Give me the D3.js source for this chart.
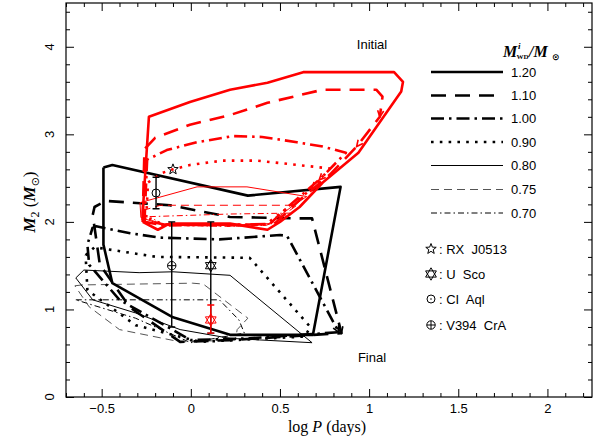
<!DOCTYPE html>
<html><head><meta charset="utf-8">
<script src="https://cdn.jsdelivr.net/npm/d3@7"></script>
<style>body{margin:0;background:#fff}</style>
</head><body>
<svg id="c" width="595" height="444"></svg>
<script>
// ---------------- data ----------------
const massLabels = ["1.20","1.10","1.00","0.90","0.80","0.75","0.70"];
const xTickValues = [-0.5, 0, 0.5, 1, 1.5, 2];
const yTickValues = [0, 1, 2, 3, 4];

// final (black) regions, [log P, M2]
const final120 = [[-0.49,2.62],[-0.44,2.65],[0.32,2.30],[0.84,2.40],[0.685,0.71],[0.22,0.71],[-0.10,0.91],[-0.44,1.30],[-0.49,1.74],[-0.49,2.62]];
const final110 = [[-0.55,2.08],[-0.54,2.17],[-0.476,2.24],[-0.117,2.19],[0.22,2.056],[0.61,2.04],[0.68,2.04],[0.845,0.73],[0.22,0.65],[-0.06,0.63],[-0.34,1.02],[-0.51,1.51],[-0.55,2.08]];
const final100 = [[-0.55,1.94],[-0.53,1.95],[-0.34,1.87],[-0.17,1.82],[0.16,1.80],[0.50,1.85],[0.54,1.84],[0.83,0.74],[0.33,0.67],[0.0,0.65],[-0.40,1.11],[-0.57,1.51],[-0.58,1.74],[-0.55,1.94]];
const final090 = [[-0.59,1.62],[-0.54,1.71],[-0.19,1.60],[0.33,1.59],[0.67,0.80],[0.64,0.69],[0.05,0.63],[-0.31,0.82],[-0.58,1.22],[-0.59,1.62]];
const final080 = [[-0.60,1.45],[-0.645,1.36],[-0.55,1.11],[-0.31,0.96],[-0.06,0.77],[0.22,0.67],[0.68,0.62],[0.22,1.39],[-0.10,1.43],[-0.29,1.42],[-0.60,1.45]];
const final075 = [[-0.65,1.27],[-0.61,1.28],[0.01,1.30],[0.07,1.29],[0.32,0.90],[0.26,0.77],[0.25,0.65],[-0.06,0.63],[-0.40,0.77],[-0.57,1.03],[-0.65,1.27]];
const final070 = [[-0.645,1.11],[0.16,1.11],[0.27,0.88],[0.30,0.73],[0.0,0.62],[-0.31,0.90],[-0.55,1.05],[-0.645,1.11]];

// initial (red) regions
const initial120 = [[-0.27,2.00],[-0.27,2.10],[-0.235,3.20],[-0.005,3.37],[0.22,3.51],[0.43,3.59],[0.63,3.71],[1.14,3.71],[1.19,3.60],[1.18,3.49],[0.94,2.79],[0.74,2.45],[0.61,2.17],[0.50,2.00],[0.43,1.91],[0.22,1.98],[-0.12,1.98],[-0.185,1.91],[-0.27,2.00]];
const initial110 = [[-0.27,2.02],[-0.26,2.83],[-0.20,2.96],[-0.005,3.11],[0.22,3.22],[0.43,3.36],[0.74,3.51],[1.04,3.51],[1.075,3.43],[1.06,3.20],[0.93,2.86],[0.78,2.54],[0.61,2.25],[0.47,1.98],[0.20,1.96],[-0.15,1.97],[-0.27,2.02]];
const initial100 = [[-0.26,2.00],[-0.245,2.71],[-0.135,2.82],[0.035,2.91],[0.235,2.98],[0.40,2.97],[0.595,2.91],[0.74,2.86],[0.87,2.79],[0.72,2.48],[0.555,2.19],[0.44,1.97],[0.20,1.97],[-0.15,1.96],[-0.26,2.00]];
const initial090 = [[-0.25,2.05],[-0.24,2.45],[-0.16,2.56],[-0.10,2.60],[-0.005,2.65],[0.18,2.70],[0.37,2.70],[0.555,2.66],[0.78,2.61],[0.68,2.38],[0.53,2.14],[0.42,1.97],[0.20,1.96],[-0.15,1.97],[-0.25,2.05]];
const initial080 = [[-0.285,2.22],[0.035,2.40],[0.315,2.40],[0.65,2.29],[0.57,2.18],[0.44,1.98],[0.20,1.96],[-0.15,1.96],[-0.28,2.05],[-0.285,2.22]];
const initial075 = [[-0.27,2.13],[-0.17,2.19],[0.595,2.19],[0.52,2.08],[0.43,1.97],[0.20,1.96],[-0.15,1.97],[-0.27,2.05],[-0.27,2.13]];
const initial070 = [[-0.23,2.06],[0.22,2.09],[0.555,2.10],[0.48,2.00],[0.42,1.96],[0.20,1.95],[-0.15,1.96],[-0.23,2.06]];

// observed systems
const obsNames = ["RX J0513","U Sco","CI Aql","V394 CrA"];
const obsLogP  = [-0.10, 0.112, -0.195, -0.107];
const obsM2    = [2.60, 1.50, 2.33, 1.50];
const obsLo    = [null, 0.73, 2.15, 0.80];
const obsHi    = [null, 2.00, 2.51, 2.00];
// U Sco red point
const uScoRedM2 = 0.88, uScoRedLo = 0.73, uScoRedHi = 1.05;

// arrows: [track set, mass index, vertex index]
const arrowSpecs = [["final",1,7],["final",2,7],["initial",1,9],["initial",1,10],["initial",2,9],["initial",3,9]];

// ---------------- chart ----------------
const svg = d3.select("#c");
const x = d3.scaleLinear().domain([-0.7, 2.25]).range([66, 592]);
const y = d3.scaleLinear().domain([0, 4.5]).range([397, 3]);
const finals = [final120, final110, final100, final090, final080, final075, final070];
const initials = [initial120, initial110, initial100, initial090, initial080, initial075, initial070];

const styles = [
  {w:2.6, dash:null, col:"#000"},
  {w:2.6, dash:"15,9", col:"#000"},
  {w:2.6, dash:"13,5,2.5,5", col:"#000"},
  {w:2.6, dash:"2.6,6.2", col:"#000"},
  {w:1.0, dash:null, col:"#000"},
  {w:1.0, dash:"8,5", col:"#555"},
  {w:1.0, dash:"6,3,1.5,3", col:"#000"}
];

svg.append("defs").append("clipPath").attr("id","clip")
  .append("rect").attr("x",66).attr("y",3).attr("width",526).attr("height",394);
const plot = svg.append("g").attr("clip-path","url(#clip)");
const line = d3.line().x(d=>x(d[0])).y(d=>y(d[1]));

function drawSet(sets, red){
  for (let i = sets.length-1; i >= 0; i--){
    const s = styles[i];
    plot.append("path").attr("d", line(sets[i])).attr("fill","none")
      .attr("stroke", red ? "#ff0000" : s.col)
      .attr("stroke-width", s.w)
      .attr("stroke-dasharray", s.dash)
      .attr("stroke-linejoin","round");
  }
}
drawSet(finals, false);
drawSet(initials, true);

// arrowheads
arrowSpecs.forEach(([set, mi, vi])=>{
  const tr = set==="final" ? finals[mi] : initials[mi];
  const tip = tr[vi], from = tr[vi-1];
  const tx = x(tip[0]), ty = y(tip[1]);
  const ang = Math.atan2(ty - y(from[1]), tx - x(from[0]));
  const L = 7, a = 0.45;
  const p1 = [tx - L*Math.cos(ang - a), ty - L*Math.sin(ang - a)];
  const p2 = [tx - L*Math.cos(ang + a), ty - L*Math.sin(ang + a)];
  plot.append("path").attr("d", `M${p1[0]},${p1[1]}L${tx},${ty}L${p2[0]},${p2[1]}`)
    .attr("fill","none").attr("stroke", set==="final" ? "#000" : "#ff0000")
    .attr("stroke-width", 1.6);
});

// marker shapes
function starPath(r){
  let p = "";
  for (let k=0;k<10;k++){
    const rr = k%2 ? r*0.42 : r;
    const an = -Math.PI/2 + k*Math.PI/5;
    p += (k?"L":"M") + (rr*Math.cos(an)).toFixed(2) + "," + (rr*Math.sin(an)).toFixed(2);
  }
  return p + "Z";
}
function davidPath(r){
  const t = (off)=>[0,1,2].map(k=>{const an = off + k*2*Math.PI/3; return [r*Math.cos(an), r*Math.sin(an)];});
  const a = t(-Math.PI/2), b = t(Math.PI/2);
  return "M"+a.map(p=>p.join(",")).join("L")+"Z M"+b.map(p=>p.join(",")).join("L")+"Z";
}
function marker(g, kind, cx, cy, col){
  const s = g.append("g").attr("transform",`translate(${cx},${cy})`);
  if (kind===0) s.append("path").attr("d", starPath(5.5)).attr("fill","none").attr("stroke",col).attr("stroke-width",1);
  if (kind===1) s.append("path").attr("d", davidPath(6.2)).attr("fill","none").attr("stroke",col).attr("stroke-width",1);
  if (kind===2){ s.append("circle").attr("r",4).attr("fill","none").attr("stroke",col).attr("stroke-width",1);
    s.append("circle").attr("r",0.8).attr("fill",col); }
  if (kind===3){ s.append("circle").attr("r",4.2).attr("fill","none").attr("stroke",col).attr("stroke-width",1);
    s.append("path").attr("d","M-4.2,0H4.2M0,-4.2V4.2").attr("stroke",col).attr("stroke-width",1); }
}
function errBar(lp, lo, hi, col){
  const cx = x(lp);
  plot.append("path").attr("d",`M${cx},${y(lo)}V${y(hi)}M${cx-3.5},${y(lo)}H${cx+3.5}M${cx-3.5},${y(hi)}H${cx+3.5}`)
    .attr("stroke",col).attr("stroke-width",1.4).attr("fill","none");
}
const obsLayer = svg.append("g");
obsNames.forEach((n,i)=>{
  if (obsLo[i]!==null) errBar(obsLogP[i], obsLo[i], obsHi[i], "#000");
});
errBar(obsLogP[1], uScoRedLo, uScoRedHi, "#ff0000");
obsNames.forEach((n,i)=>{
  if (i===2){ // CI Aql: open circle on the bar
    const g2 = obsLayer.append("g").attr("transform",`translate(${x(obsLogP[i])},${y(obsM2[i])})`);
    g2.append("circle").attr("r",4).attr("fill","none").attr("stroke","#000").attr("stroke-width",1);
  } else marker(obsLayer, i, x(obsLogP[i]), y(obsM2[i]), "#000");
});
marker(obsLayer, 1, x(obsLogP[1]), y(uScoRedM2), "#ff0000");

// ---------------- axes ----------------
const xMinor = d3.range(-7, 23).map(i=>i/10).filter(v=>Math.abs(v*2 - Math.round(v*2))>1e-6);
const yMinor = d3.range(0, 23).map(i=>i/5).filter(v=>Math.abs(v - Math.round(v))>1e-6);
const fmt = d3.format("");
function ax(gen, tr){
  const g = svg.append("g").attr("transform", tr).call(gen);
  g.select(".domain").remove();
  g.selectAll("line").attr("stroke","#000").attr("stroke-width",1);
  g.selectAll("text").attr("font-family","'Liberation Sans', Arial, sans-serif").attr("font-size",13).attr("fill","#000");
  return g;
}
ax(d3.axisBottom(x).tickValues(xTickValues).tickSize(-8).tickPadding(7).tickFormat(fmt), "translate(0,397)");
ax(d3.axisBottom(x).tickValues(xMinor).tickSize(-4).tickFormat(""), "translate(0,397)");
ax(d3.axisTop(x).tickValues(xTickValues).tickSize(-8).tickFormat(""), "translate(0,3)");
ax(d3.axisTop(x).tickValues(xMinor).tickSize(-4).tickFormat(""), "translate(0,3)");
ax(d3.axisLeft(y).tickValues(yTickValues).tickSize(-8).tickFormat(""), "translate(66,0)");
ax(d3.axisLeft(y).tickValues(yMinor).tickSize(-4).tickFormat(""), "translate(66,0)");
ax(d3.axisRight(y).tickValues(yTickValues).tickSize(-8).tickFormat(""), "translate(592,0)");
ax(d3.axisRight(y).tickValues(yMinor).tickSize(-4).tickFormat(""), "translate(592,0)");
yTickValues.forEach(v=>{
  svg.append("text").attr("transform",`translate(49,${y(v)}) rotate(-90)`)
    .attr("text-anchor","middle").attr("dy","0.36em")
    .attr("font-family","'Liberation Sans', Arial, sans-serif").attr("font-size",13).text(fmt(v));
});
svg.append("rect").attr("x",66).attr("y",3).attr("width",526).attr("height",394)
  .attr("fill","none").attr("stroke","#000").attr("stroke-width",1.2);

// axis titles
const serif = "'Liberation Serif','DejaVu Serif',serif";
const xt = svg.append("text").attr("x",327).attr("y",432).attr("text-anchor","middle")
  .attr("font-family",serif).attr("font-size",16);
xt.append("tspan").text("log ");
xt.append("tspan").attr("font-style","italic").text("P");
xt.append("tspan").text(" (days)");

const yt = svg.append("text").attr("transform","translate(35,202) rotate(-90)").attr("text-anchor","middle")
  .attr("font-family",serif).attr("font-size",17);
yt.append("tspan").attr("font-style","italic").attr("font-weight","bold").text("M");
yt.append("tspan").attr("font-size",12).attr("dy",4).text("2");
yt.append("tspan").attr("dy",-4).text(" (");
yt.append("tspan").attr("font-style","italic").attr("font-weight","bold").text("M");
yt.append("tspan").attr("font-size",11).attr("dy",4).attr("font-family","'DejaVu Sans',sans-serif").text("⊙");
yt.append("tspan").attr("dy",-4).text(")");

// region labels
const sans = "'Liberation Sans', Arial, sans-serif";
svg.append("text").attr("x",372).attr("y",49).attr("text-anchor","middle").attr("font-family",sans).attr("font-size",13).text("Initial");
svg.append("text").attr("x",372).attr("y",362).attr("text-anchor","middle").attr("font-family",sans).attr("font-size",13).text("Final");

// legend title
const lt = svg.append("g").attr("font-family",serif).attr("font-weight","bold").attr("font-style","italic");
lt.append("text").attr("x",503).attr("y",57).attr("font-size",16).text("M");
lt.append("text").attr("x",518).attr("y",49).attr("font-size",9).text("i");
lt.append("text").attr("x",516.5).attr("y",59).attr("font-size",7).attr("font-style","normal").text("WD");
lt.append("text").attr("x",529).attr("y",57).attr("font-size",16).text("/M");
lt.append("text").attr("x",552).attr("y",60).attr("font-size",9).attr("font-style","normal").attr("font-family","'DejaVu Sans',sans-serif").text("⊙");

// legend lines
const legY = [72, 95.5, 118.5, 142, 165.5, 189.5, 213];
massLabels.forEach((m,i)=>{
  const s = styles[i];
  svg.append("line").attr("x1",431).attr("x2",503).attr("y1",legY[i]).attr("y2",legY[i])
    .attr("stroke",s.col).attr("stroke-width",s.w).attr("stroke-dasharray",s.dash);
  svg.append("text").attr("x",511).attr("y",legY[i]).attr("dy","0.36em")
    .attr("font-family",sans).attr("font-size",13).text(m);
});
// marker legend
const mkY = [249, 274, 299, 325];
obsNames.forEach((n,i)=>{
  marker(svg, i, 431, mkY[i], "#000");
  svg.append("text").attr("x",439).attr("y",mkY[i]).attr("dy","0.36em")
    .attr("font-family",sans).attr("font-size",13).attr("xml:space","preserve").text(": " + n.replace(" ","  "));
});
</script>
</body></html>
